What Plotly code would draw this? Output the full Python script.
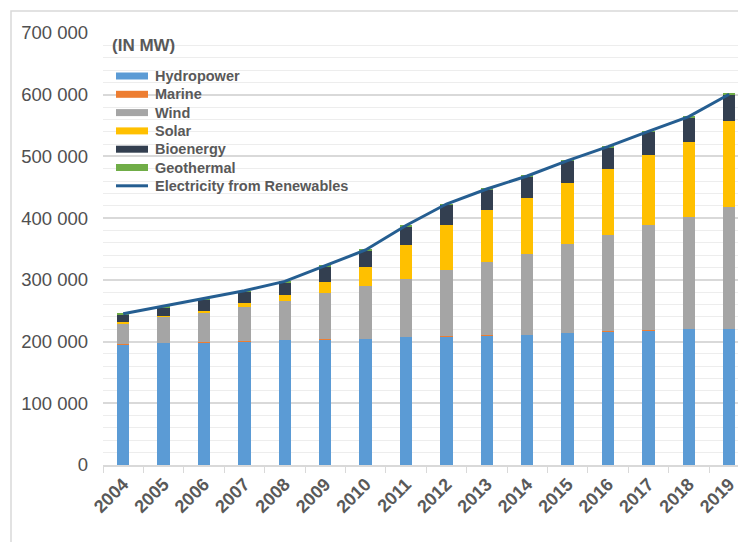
import plotly.graph_objects as go

years = ["2004", "2005", "2006", "2007", "2008", "2009", "2010", "2011",
         "2012", "2013", "2014", "2015", "2016", "2017", "2018", "2019"]

hydropower = [195600, 198200, 198800, 200900, 202600, 203600, 204700, 207900,
              209000, 210100, 211200, 213900, 217100, 218000, 220700, 220900]
marine = [240, 240, 240, 240, 240, 240, 240, 240,
          240, 240, 240, 240, 240, 240, 240, 240]
wind = [34000, 41600, 48600, 55100, 63100, 75600, 85300, 93500,
        107500, 118300, 130700, 143700, 156100, 171200, 181500, 196600]
solar = [1600, 2100, 2600, 6000, 10300, 16800, 31300, 54600,
         72900, 84800, 91300, 99300, 106400, 112400, 121000, 139900]
bioenergy = [13000, 13600, 17400, 18300, 20000, 25300, 26000, 30200,
             31900, 33500, 34000, 35700, 35200, 37800, 40000, 42100]
geothermal = [800, 850, 900, 950, 1000, 1000, 1050, 1100,
              1150, 1200, 1250, 1300, 1350, 1400, 1450, 1500]
renewables_total = [245000, 257600, 270100, 282500, 297600, 323000, 348400, 388000,
                    422900, 447200, 468300, 493100, 515800, 540700, 564400, 600700]

ytick_vals = [0, 100000, 200000, 300000, 400000, 500000, 600000, 700000]
ytick_text = ["0", "100 000", "200 000", "300 000", "400 000", "500 000", "600 000", "700 000"]

series = [
    ("Hydropower", hydropower, "#5B9BD5"),
    ("Marine", marine, "#ED7D31"),
    ("Wind", wind, "#A5A5A5"),
    ("Solar", solar, "#FFC000"),
    ("Bioenergy", bioenergy, "#333F50"),
    ("Geothermal", geothermal, "#70AD47"),
]
line_name = "Electricity from Renewables"
line_color = "#255E91"

# The page body has an 8px default margin; lay the figure out in page pixels
OFF = 8
PAGE_W, PAGE_H = 746, 542
W, H = PAGE_W - OFF, PAGE_H - OFF
ML, MR, MT, MB = 103 - OFF, 0, 33 - OFF, 77
PW, PH = W - ML - MR, H - MT - MB


def px_x(p):
    # p given in page pixels
    return (p - OFF - ML) / PW


def px_y(p):
    return (H - MB - (p - OFF)) / PH


fig = go.Figure()
for name, vals, col in series:
    fig.add_trace(go.Bar(x=years, y=vals, name=name, marker_color=col,
                         marker_line_width=0, width=0.31, showlegend=False))
fig.add_trace(go.Scatter(x=years, y=renewables_total, name=line_name, mode="lines",
                         line=dict(color=line_color, width=3), showlegend=False))

text_color = "#595959"
font_family = "Liberation Sans"

shapes = []
annotations = []
# frame around chart
shapes.append(dict(type="rect", xref="paper", yref="paper",
                   x0=px_x(11), x1=px_x(800), y0=px_y(11), y1=px_y(600),
                   line=dict(color="#D9D9D9", width=1.5), fillcolor="rgba(0,0,0,0)",
                   layer="below"))

# custom legend
row0, row_gap = 76, 18.3
key_x0, key_x1, text_x = 116, 148, 153
entries = [(n, c, "bar") for n, _, c in series] + [(line_name, line_color, "line")]
for i, (name, col, kind) in enumerate(entries):
    yc = row0 + i * row_gap
    if kind == "bar":
        shapes.append(dict(type="rect", xref="paper", yref="paper",
                           x0=px_x(key_x0), x1=px_x(key_x1),
                           y0=px_y(yc - 3.5), y1=px_y(yc + 3.5),
                           fillcolor=col, line=dict(width=0), layer="above"))
    else:
        shapes.append(dict(type="line", xref="paper", yref="paper",
                           x0=px_x(key_x0), x1=px_x(key_x1),
                           y0=px_y(yc), y1=px_y(yc),
                           line=dict(color=col, width=3), layer="above"))
    annotations.append(dict(text=name, xref="paper", yref="paper",
                            x=px_x(text_x), y=px_y(yc), xanchor="left", yanchor="middle",
                            showarrow=False,
                            font=dict(family=font_family, size=14.5, color=text_color,
                                      weight="bold")))

annotations.append(dict(text="(IN MW)", xref="paper", yref="paper",
                        x=px_x(110), y=px_y(45), xanchor="left", yanchor="middle",
                        showarrow=False,
                        font=dict(family=font_family, size=17, color=text_color,
                                  weight="bold")))

fig.update_layout(
    width=W, height=H,
    margin=dict(l=ML, r=MR, t=MT, b=MB, pad=0),
    barmode="stack",
    plot_bgcolor="white",
    paper_bgcolor="white",
    showlegend=False,
    shapes=shapes,
    annotations=annotations,
    font=dict(family=font_family, color=text_color),
    xaxis=dict(
        type="category",
        range=[-0.5, -0.5 + PW / 40.4],
        showgrid=False,
        showline=True, linecolor="#D9D9D9", linewidth=1.5,
        ticks="outside", tickson="boundaries", ticklen=6, tickcolor="#D9D9D9",
        tickangle=-45,
        tickfont=dict(family=font_family, size=18, color=text_color, weight="bold"),
    ),
    yaxis=dict(
        range=[0, 700000],
        tickvals=ytick_vals, ticktext=ytick_text,
        showgrid=True, gridcolor="#D9D9D9", gridwidth=1.5,
        zeroline=False, showline=False,
        ticks="", ticklabelstandoff=14,
        tickfont=dict(family=font_family, size=18.5, color="#505050"),
        minor=dict(dtick=20000, showgrid=True, gridcolor="#EDEDED", gridwidth=1),
    ),
)

fig.write_html("out.html")
